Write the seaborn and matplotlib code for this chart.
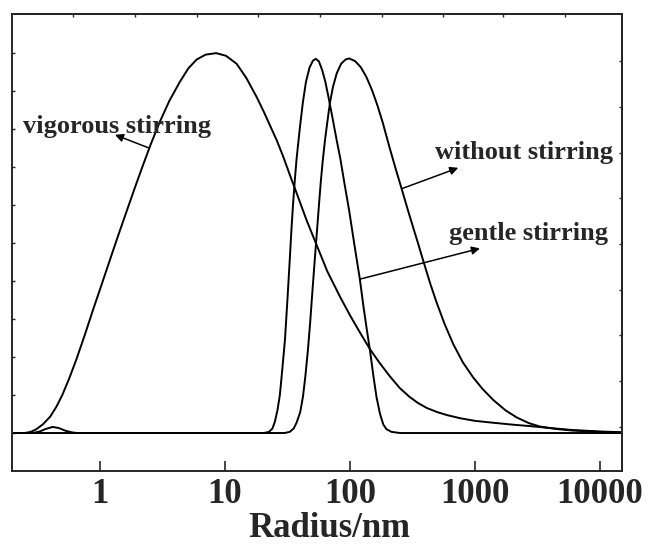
import numpy as np
import pandas as pd
import matplotlib
matplotlib.use("Agg")
import matplotlib.pyplot as plt
from matplotlib.ticker import FixedLocator, NullLocator, NullFormatter, FuncFormatter
import seaborn as sns

# --- DATA ---
vig_r = [0.20, 0.25, 0.28, 0.31, 0.35, 0.40, 0.45, 0.50, 0.57, 0.65, 0.76, 0.88,
         1.03, 1.20, 1.40, 1.64, 1.90, 2.21, 2.55, 3.02, 3.6, 4.37, 5.1, 5.93,
         7.0, 8.5, 10.2, 12.4, 14.8, 17.9, 20.5, 22.9, 26, 29.3, 33, 37.5,
         45, 54.1, 66, 83.2, 100, 120, 145, 174, 210, 251, 300, 350,
         411, 500, 600, 759, 1000, 1400, 2000, 2800, 4000, 6000, 10000, 15000]
vig_i = [0, 0, 0.3, 1.0, 2.3, 4.3, 7.0, 10, 14.5, 19.5, 26, 32.4,
         39, 45.5, 52, 58.5, 64.5, 70.5, 76, 82, 87.5, 92.5, 96, 98.3,
         99.6, 100, 99.3, 97.2, 93.5, 88.5, 84.5, 81, 77, 72.7, 68, 63.1,
         56, 49.5, 42.5, 35.9, 31, 26.5, 22, 18.3, 14.8, 11.8, 9.5, 7.9,
         6.6, 5.5, 4.7, 3.9, 3.2, 2.7, 2.2, 1.8, 1.3, 0.8, 0.4, 0.2]

gen_r = [0.20, 0.29, 0.33, 0.37, 0.42, 0.47, 0.53, 0.60, 0.66, 20.5, 22.5, 24.0,
         25.1, 26.3, 27.5, 28.8, 30.2, 31.6, 33.1, 34.1, 35.1, 36.3, 37.5, 39.8,
         42.0, 44.5, 47.5, 50.5, 53.3, 56.5, 60.0, 63.5, 66.8, 72, 78.4, 84,
         89.5, 98.6, 108, 120, 128, 136, 145, 154, 163, 174, 185, 196,
         215, 251, 15000]
gen_i = [0, 0, 0.4, 1.1, 1.6, 1.3, 0.6, 0.15, 0, 0, 0.3, 1.2,
         3.0, 6, 10, 17, 24.5, 35, 46.4, 54, 60.5, 67, 72.5, 80.5,
         87, 92.5, 96.2, 98, 98.5, 97.8, 95.5, 92.5, 89, 83.5, 77, 72,
         66.5, 58.5, 50, 40.5, 33.5, 27.5, 21.5, 15, 9.5, 5, 2.2, 1.0,
         0.3, 0, 0]

wo_r = [0.20, 30, 33, 35.5, 37.5, 40, 42.1, 44, 46, 47.9, 50, 52.5,
        55, 56.8, 58.4, 60.5, 63.1, 66, 69.2, 73, 78.4, 85, 92, 98.5,
        110, 122, 135, 150, 166, 183, 206, 230, 259, 290, 321, 350,
        386, 440, 494, 570, 670, 800, 969, 1150, 1400, 1750, 2157, 2700,
        3311, 4500, 6000, 10000, 15000]
wo_i = [0, 0, 0.3, 1.2, 2.8, 5.5, 9.6, 15, 21.5, 28.5, 37, 46.4,
        55, 61, 66, 71.5, 77, 82, 87, 91, 94.7, 97.2, 98.3, 98.6,
        97.9, 96.3, 93.8, 90.3, 86.2, 81.7, 75.5, 70.0, 64.3, 58.8, 54.0, 50.0,
        45.3, 39.2, 34.3, 28.8, 23.4, 18.6, 14.6, 11.6, 8.7, 6.0, 4.1, 2.6,
        1.7, 1.05, 0.65, 0.3, 0.1]

x_ticks = [1, 10, 100, 1000, 10000]
top_ticks = [0.608, 1.9, 5.97, 18.4, 57.5, 180, 555, 1675, 5250]
left_ticks = [0, 10, 20, 30, 40, 50, 60, 70, 80, 90, 100]
right_ticks = [1.6, 13.6, 25.7, 37.7, 49.7, 61.8, 73.8, 85.8, 97.9]

# --- STYLE ---
sns.set_style("ticks")
plt.rcParams["font.family"] = ["Liberation Serif", "DejaVu Serif"]
plt.rcParams["font.weight"] = "bold"

fig = plt.figure(figsize=(6.49, 5.45), dpi=100)
ax = fig.add_axes([12 / 649, 1 - 471 / 545, 610 / 649, 457 / 545])

for r, i in [(vig_r, vig_i), (gen_r, gen_i), (wo_r, wo_i)]:
    df = pd.DataFrame({"r": r, "i": i})
    sns.lineplot(data=df, x="r", y="i", ax=ax, color="black", linewidth=1.4,
                 sort=False, estimator=None)

ax.set_xscale("log")
ax.set_xlim(0.198, 15000)
ax.set_ylim(-10, 110.3)

ax.xaxis.set_major_locator(FixedLocator(x_ticks))
ax.xaxis.set_minor_locator(NullLocator())
ax.xaxis.set_major_formatter(FuncFormatter(lambda v, p: f"{v:g}"))
ax.yaxis.set_major_locator(FixedLocator(left_ticks))
ax.yaxis.set_major_formatter(NullFormatter())
ax.tick_params(axis="x", direction="in", length=7, width=1.2, pad=5,
               labelsize=25)
ax.tick_params(axis="y", direction="in", length=2.5, width=1.0)

sec_top = ax.secondary_xaxis("top")
sec_top.xaxis.set_major_locator(FixedLocator(top_ticks))
sec_top.xaxis.set_minor_locator(NullLocator())
sec_top.xaxis.set_major_formatter(NullFormatter())
sec_top.tick_params(direction="in", length=2.5, width=1.0)

sec_right = ax.secondary_yaxis("right")
sec_right.yaxis.set_major_locator(FixedLocator(right_ticks))
sec_right.yaxis.set_major_formatter(NullFormatter())
sec_right.tick_params(direction="in", length=2.5, width=1.0)

for s in list(ax.spines.values()) + list(sec_top.spines.values()) + list(sec_right.spines.values()):
    s.set_linewidth(1.4)

ax.set_xlabel("Radius/nm", fontsize=25, fontweight="bold")
ax.xaxis.set_label_coords(0.52, -0.09)
ax.set_ylabel("")

# --- ANNOTATIONS ---
arrow = dict(arrowstyle="-|>", color="black", lw=1.1, mutation_scale=12,
             shrinkA=0, shrinkB=0)
ax.text(0.243, 79, "vigorous stirring", fontsize=19, fontweight="bold", va="baseline")
ax.annotate("", xy=(1.32, 78.5), xytext=(2.48, 75), arrowprops=arrow)
ax.text(479, 72, "without stirring", fontsize=19, fontweight="bold", va="baseline")
ax.annotate("", xy=(735, 69.8), xytext=(259, 64.3), arrowprops=arrow)
ax.text(623, 50.8, "gentle stirring", fontsize=19, fontweight="bold", va="baseline")
ax.annotate("", xy=(1096, 48.6), xytext=(120, 40.5), arrowprops=arrow)

fig.savefig("out.png", dpi=100)
